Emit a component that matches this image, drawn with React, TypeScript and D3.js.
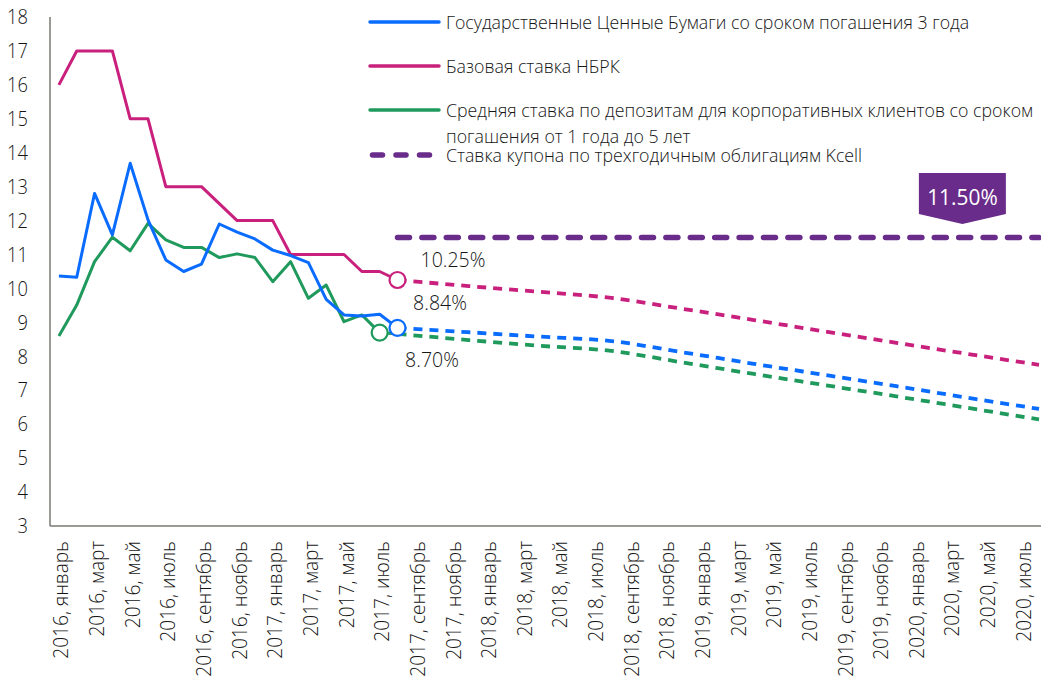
import React from 'react';
import * as d3 from 'd3';

// ---- data ----
const monthNames = ['январь','февраль','март','апрель','май','июнь','июль','август','сентябрь','октябрь','ноябрь','декабрь'];
const startYear = 2016;
const monthCount = 56; // Jan 2016 .. Aug 2020
const categories: string[] = Array.from({ length: monthCount }, (_, i) => `${startYear + Math.floor(i / 12)}, ${monthNames[i % 12]}`);

const baseRate = [16, 17, 17, 17, 15, 15, 13, 13, 13, 12.5, 12, 12, 12, 11, 11, 11, 11, 10.5, 10.5, 10.25];
const govBonds = [10.37, 10.33, 12.8, 11.58, 13.69, 12.02, 10.84, 10.5, 10.72, 11.9, 11.66, 11.46, 11.13, 10.97, 10.76, 9.68, 9.22, 9.19, 9.24, 8.84];
const deposits = [8.6, 9.51, 10.79, 11.51, 11.11, 11.92, 11.43, 11.21, 11.21, 10.91, 11.02, 10.91, 10.2, 10.79, 9.71, 10.1, 9.02, 9.22, 8.7, 8.66];

const forecastMonths = [19, 23, 27, 31, 35, 39, 43, 47, 51, 55];
const baseForecast = [10.25, 10.07, 9.9, 9.72, 9.4, 9.07, 8.73, 8.4, 8.07, 7.75];
const govForecast = [8.84, 8.71, 8.58, 8.45, 8.12, 7.78, 7.45, 7.12, 6.78, 6.45];
const depForecast = [8.66, 8.48, 8.31, 8.16, 7.82, 7.48, 7.15, 6.82, 6.48, 6.14];

const couponMonths = [19, 55];
const couponRate = [11.5, 11.5];

const yTicks = [3, 4, 5, 6, 7, 8, 9, 10, 11, 12, 13, 14, 15, 16, 17, 18];

const legendLabels = [
  ['Государственные Ценные Бумаги со сроком погашения 3 года'],
  ['Базовая ставка НБРК'],
  ['Средняя ставка по депозитам для корпоративных клиентов со сроком', 'погашения от 1 года до 5 лет'],
  ['Ставка купона по трехгодичным облигациям Kcell'],
];

const markers = [
  { month: 19, value: 10.25, label: '10.25%', series: 'base' },
  { month: 19, value: 8.84, label: '8.84%', series: 'gov' },
  { month: 18, value: 8.7, label: '8.70%', series: 'dep' },
];
const calloutLabel = '11.50%';
const calloutMonth = 50.7;

// ---- style ----
const W = 1041, H = 682;
const COLORS: Record<string, string> = { gov: '#0a6cff', base: '#c8207c', dep: '#1f9a5c', coupon: '#6a2c8a' };
const FONT = "'Open Sans', 'Noto Sans', sans-serif";
const TEXT = '#151515';

export default function App() {
  const x = d3.scaleBand<string>().domain(categories).range([50, 50 + monthCount * 17.82]).paddingInner(0).paddingOuter(0);
  const bw = x.bandwidth();
  const xi = (i: number) => (x(categories[Math.floor(i)]) as number) + bw / 2 + (i - Math.floor(i)) * bw;
  const y = d3.scaleLinear().domain([3, 18]).range([526, 17]);

  const solid = d3.line<number>().x((_, i) => xi(i)).y((d) => y(d));
  const fc = d3.line<number>().x((_, i) => xi(forecastMonths[i])).y((d) => y(d)).curve(d3.curveMonotoneX);
  const coupon = d3.line<number>().x((_, i) => xi(couponMonths[i])).y((d) => y(d));

  const T = ({ x: tx, y: ty, size, anchor = 'start', fill = TEXT, rot = 0, sx = 1, weight = 300, children }: any) => (
    <text
      transform={`translate(${tx},${ty}) rotate(${rot}) scale(${sx},1)`}
      fontSize={size}
      textAnchor={anchor}
      dominantBaseline="central"
      fill={fill}
      fontFamily={FONT}
      fontWeight={weight}
    >
      {children}
    </text>
  );

  const legendY = [22, 66, 110, 155];
  const legendKeys = ['gov', 'base', 'dep', 'coupon'];

  const cx = xi(calloutMonth);
  const cTop = 173, cBot = 214, cTip = 224, cHalf = 43.5;

  return (
    <svg width={W} height={H} style={{ position: 'absolute', left: 0, top: 0, background: '#fff' }}>
      <rect width={W} height={H} fill="#fff" />
      {/* axes */}
      <line x1={50} y1={17} x2={50} y2={526} stroke="#7a7a72" strokeWidth={1.5} />
      <line x1={50} y1={526} x2={W} y2={526} stroke="#7a7a72" strokeWidth={1.5} />
      {yTicks.map((t) => (
        <T key={t} x={28} y={y(t)} size={19.5} anchor="end" sx={0.94}>{t}</T>
      ))}
      {categories.map((c, i) =>
        i % 2 === 0 && i <= 54 ? (
          <T key={c} x={xi(i) + 2} y={541} size={19.5} anchor="end" rot={-90} sx={0.98}>{c}</T>
        ) : null
      )}

      {/* coupon */}
      <path d={coupon(couponRate) || ''} fill="none" stroke={COLORS.coupon} strokeWidth={5.5} strokeDasharray="12 12.4" strokeLinecap="round" />

      {/* forecasts */}
      <path d={fc(baseForecast) || ''} fill="none" stroke={COLORS.base} strokeWidth={3.8} strokeDasharray="9 7" />
      <path d={fc(govForecast) || ''} fill="none" stroke={COLORS.gov} strokeWidth={3.8} strokeDasharray="9 7" />
      <path d={fc(depForecast) || ''} fill="none" stroke={COLORS.dep} strokeWidth={3.8} strokeDasharray="9 7" />

      {/* actuals */}
      <path d={solid(deposits) || ''} fill="none" stroke={COLORS.dep} strokeWidth={3} strokeLinejoin="round" />
      <path d={solid(baseRate) || ''} fill="none" stroke={COLORS.base} strokeWidth={3} strokeLinejoin="round" />
      <path d={solid(govBonds) || ''} fill="none" stroke={COLORS.gov} strokeWidth={3} strokeLinejoin="round" />

      {markers.map((m) => (
        <circle key={m.label} cx={xi(m.month)} cy={y(m.value)} r={8} fill="#fff" stroke={COLORS[m.series]} strokeWidth={2.2} />
      ))}
      <T x={453} y={259} size={19.5} anchor="middle">{markers[0].label}</T>
      <T x={440} y={302} size={19.5} anchor="middle">{markers[1].label}</T>
      <T x={432} y={359} size={19.5} anchor="middle">{markers[2].label}</T>

      {/* callout */}
      <path
        d={`M${cx - cHalf},${cTop}H${cx + cHalf}V${cBot}L${cx},${cTip}L${cx - cHalf},${cBot}Z`}
        fill={COLORS.coupon}
      />
      <T x={cx} y={196} size={22} anchor="middle" fill="#fff" sx={0.95} weight={400}>{calloutLabel}</T>

      {/* legend */}
      {legendKeys.map((k, i) => (
        <g key={k}>
          {k === 'coupon' ? (
            <line x1={372.5} x2={429.5} y1={legendY[i]} y2={legendY[i]} stroke={COLORS[k]} strokeWidth={5.5} strokeDasharray="10 13.5" strokeLinecap="round" />
          ) : (
            <line x1={370} x2={439} y1={legendY[i]} y2={legendY[i]} stroke={COLORS[k]} strokeWidth={3.5} strokeLinecap="round" />
          )}
          {legendLabels[i].map((ln, j) => (
            <T key={j} x={446} y={legendY[i] + j * 26} size={17.6} sx={1.01}>{ln}</T>
          ))}
        </g>
      ))}
    </svg>
  );
}
